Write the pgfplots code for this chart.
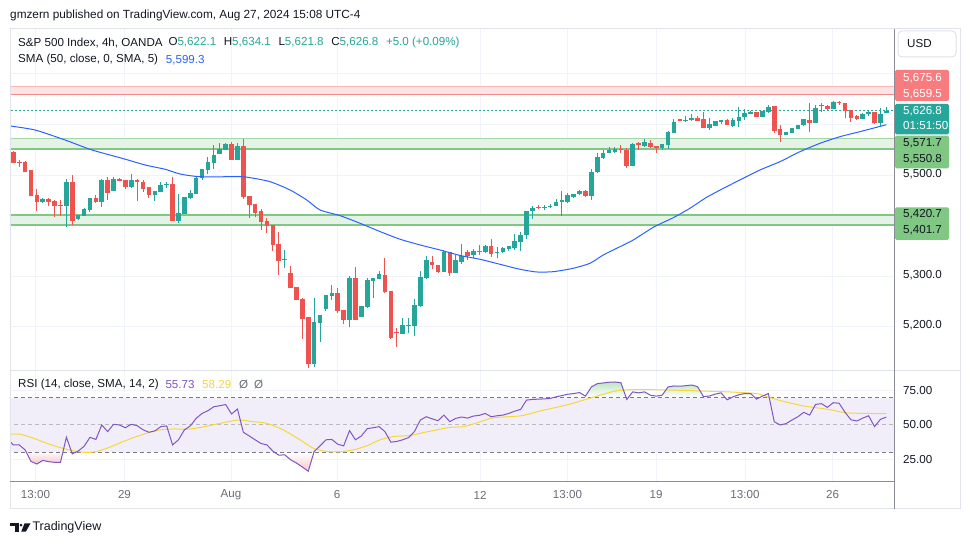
\documentclass[border=0pt]{standalone}
\usepackage{pgfplots}
\pgfplotsset{compat=1.18}
\usepackage{pgfplotstable}
\usepackage{fontspec}
\setmainfont{Liberation Sans}

\definecolor{tvup}{HTML}{26A69A}
\definecolor{tvdn}{HTML}{EF5350}
\definecolor{smablue}{HTML}{2962FF}
\definecolor{gridc}{HTML}{F0F3FA}
\definecolor{zoneg}{HTML}{E4F3E5}
\definecolor{zonegl}{HTML}{A5D6A7}
\definecolor{zonegd}{HTML}{81C784}
\definecolor{zoner}{HTML}{FDE4E4}
\definecolor{zonerl}{HTML}{F7B7B7}
\definecolor{zonerd}{HTML}{F28B8B}
\definecolor{rsip}{HTML}{7E57C2}
\definecolor{rsiy}{HTML}{F5D73A}
\definecolor{band}{HTML}{F2EEF9}
\definecolor{dashc}{HTML}{787B86}
\definecolor{dashl}{HTML}{B8BAC2}
\definecolor{txt}{HTML}{131722}
\definecolor{txtg}{HTML}{6A6D78}
\definecolor{framec}{HTML}{E0E3EB}
\definecolor{scalec}{HTML}{8A8D96}
\definecolor{lblred}{HTML}{F77C80}
\definecolor{lblgreen}{HTML}{81C784}
\definecolor{obg}{HTML}{BFE5C1}
\definecolor{osr}{HTML}{F7C6CA}

\pgfplotstableread{
i o h l c
0 5546.2 5546.5 5522.7 5524.4
1 5525.7 5529.6 5516.5 5524.7
2 5526.4 5528.4 5505.0 5506.7
3 5510.0 5510.0 5457.5 5458.5
4 5460.5 5472.3 5429.6 5447.3
5 5446.6 5454.5 5445.6 5452.6
6 5452.6 5454.5 5438.7 5447.3
7 5449.3 5450.6 5417.7 5439.4
8 5439.7 5450.6 5419.0 5439.5
9 5439.4 5491.1 5397.9 5486.2
10 5486.2 5500.0 5401.2 5409.8
11 5413.1 5421.0 5411.1 5421.0
12 5419.0 5434.8 5418.0 5432.8
13 5430.8 5454.6 5427.6 5453.9
14 5453.6 5460.5 5445.6 5446.6
15 5447.3 5492.1 5437.4 5490.1
16 5490.1 5495.1 5450.6 5465.1
17 5469.1 5496.8 5468.4 5491.4
18 5492.1 5494.8 5488.1 5488.1
19 5490.1 5490.1 5472.3 5477.0
20 5477.0 5502.0 5475.0 5490.1
21 5490.1 5492.1 5448.6 5485.5
22 5486.9 5490.1 5467.1 5472.3
23 5476.3 5477.0 5455.2 5461.2
24 5461.2 5468.4 5449.3 5468.4
25 5467.1 5486.2 5467.1 5480.3
26 5480.3 5486.9 5475.0 5481.3
27 5482.3 5495.4 5409.1 5409.8
28 5409.8 5462.5 5405.9 5425.0
29 5423.0 5456.6 5423.0 5456.6
30 5453.9 5470.4 5451.9 5464.4
31 5463.1 5498.1 5462.4 5493.4
32 5493.4 5511.9 5490.1 5511.9
33 5509.9 5535.0 5501.3 5525.7
34 5524.4 5559.3 5511.2 5540.2
35 5542.2 5564.0 5542.2 5551.4
36 5550.1 5563.3 5549.4 5561.3
37 5561.3 5564.6 5529.6 5529.6
38 5529.6 5563.3 5529.6 5556.6
39 5556.6 5571.2 5451.9 5457.2
40 5457.8 5457.8 5415.0 5441.4
41 5442.0 5442.0 5417.7 5425.6
42 5428.9 5432.2 5391.3 5407.8
43 5409.1 5415.7 5384.7 5400.0
44 5400.5 5400.5 5350.5 5361.7
45 5363.6 5386.7 5302.4 5330.0
46 5332.0 5351.8 5316.9 5334.0
47 5306.3 5320.2 5277.2 5277.2
48 5278.5 5278.5 5253.0 5253.0
49 5254.9 5256.2 5175.9 5215.4
50 5219.4 5219.4 5117.9 5125.8
51 5126.5 5256.2 5121.3 5209.5
52 5208.2 5223.3 5170.8 5223.3
53 5235.1 5262.8 5231.2 5262.8
54 5260.8 5282.6 5253.0 5266.8
55 5266.8 5276.7 5226.6 5232.0
56 5233.3 5233.3 5205.5 5213.4
57 5213.4 5299.7 5200.3 5296.4
58 5296.4 5318.2 5213.4 5213.4
59 5219.4 5241.1 5218.7 5241.1
60 5239.1 5296.4 5236.4 5292.4
61 5291.1 5296.4 5257.6 5296.4
62 5294.4 5310.3 5294.4 5304.3
63 5302.4 5336.0 5267.5 5269.5
64 5271.4 5271.4 5175.2 5177.9
65 5189.7 5198.3 5160.8 5187.7
66 5186.4 5218.2 5186.4 5202.9
67 5201.6 5216.8 5187.0 5203.6
68 5201.6 5255.6 5181.8 5242.4
69 5241.1 5311.0 5239.8 5298.4
70 5297.1 5339.2 5293.8 5331.3
71 5328.1 5339.2 5314.8 5321.4
72 5321.4 5321.4 5307.0 5308.3
73 5308.3 5351.8 5308.3 5347.8
74 5347.1 5347.1 5300.4 5307.0
75 5307.0 5342.6 5307.0 5331.3
76 5329.0 5363.6 5324.1 5339.9
77 5347.8 5351.8 5332.0 5339.9
78 5341.2 5353.8 5336.6 5349.8
79 5348.8 5361.0 5341.9 5347.8
80 5347.8 5361.0 5346.5 5359.7
81 5359.7 5373.5 5338.6 5344.6
82 5344.9 5358.4 5336.6 5346.8
83 5347.8 5358.4 5346.5 5355.7
84 5353.8 5359.7 5350.5 5359.7
85 5356.4 5383.4 5351.8 5369.6
86 5368.3 5388.1 5350.5 5381.5
87 5381.5 5429.0 5373.5 5429.0
88 5428.3 5439.6 5413.0 5435.0
89 5437.0 5440.2 5433.0 5435.7
90 5435.0 5441.0 5431.0 5437.0
91 5437.0 5443.0 5434.3 5439.0
92 5437.7 5452.6 5437.7 5447.5
93 5446.1 5467.8 5419.7 5450.1
94 5447.5 5463.9 5444.1 5460.6
95 5456.7 5462.6 5455.4 5462.6
96 5461.9 5470.5 5460.0 5468.5
97 5468.5 5470.5 5457.4 5459.4
98 5459.4 5511.2 5450.8 5505.9
99 5505.9 5543.5 5503.3 5535.0
100 5533.6 5549.4 5531.6 5543.5
101 5543.5 5556.0 5542.8 5549.4
102 5545.5 5554.7 5544.2 5550.7
103 5551.4 5559.3 5542.8 5549.4
104 5549.4 5553.4 5513.8 5517.8
105 5517.8 5562.6 5517.8 5561.3
106 5562.6 5566.0 5549.4 5558.6
107 5558.0 5570.5 5556.0 5565.2
108 5562.6 5569.2 5554.1 5555.4
109 5557.3 5557.3 5544.2 5554.1
110 5554.1 5560.6 5549.4 5560.6
111 5559.3 5586.3 5552.1 5585.0
112 5583.7 5610.0 5583.7 5604.8
113 5610.0 5610.0 5606.7 5606.7
114 5607.7 5615.9 5604.8 5608.7
115 5608.7 5620.6 5606.7 5612.0
116 5612.7 5616.6 5607.4 5607.4
117 5610.0 5623.8 5593.6 5593.6
118 5592.9 5612.7 5588.9 5600.8
119 5596.8 5606.7 5596.8 5606.7
120 5604.8 5608.7 5600.8 5608.7
121 5608.7 5611.4 5598.8 5598.8
122 5596.8 5612.7 5594.1 5608.7
123 5606.7 5634.4 5594.1 5614.6
124 5614.6 5629.8 5608.7 5623.2
125 5620.6 5627.2 5620.6 5624.5
126 5624.5 5624.5 5615.3 5615.3
127 5615.3 5626.5 5615.3 5626.5
128 5624.5 5637.7 5623.2 5633.7
129 5636.4 5636.4 5583.7 5587.0
130 5590.2 5598.8 5565.9 5579.7
131 5579.7 5585.7 5578.3 5585.7
132 5583.7 5593.6 5582.3 5593.6
133 5591.6 5599.5 5591.6 5599.5
134 5598.1 5610.0 5596.8 5610.0
135 5608.7 5642.3 5585.7 5603.5
136 5603.5 5638.4 5603.5 5633.1
137 5635.7 5641.6 5625.2 5637.1
138 5637.1 5639.1 5627.2 5629.8
139 5629.8 5646.3 5629.8 5644.3
140 5644.3 5646.3 5638.4 5641.6
141 5641.6 5641.6 5612.0 5627.2
142 5628.5 5628.5 5605.4 5612.0
143 5615.9 5618.6 5608.7 5611.4
144 5611.4 5621.9 5611.4 5619.9
145 5620.6 5628.5 5616.6 5624.5
146 5624.5 5624.5 5600.8 5602.1
147 5603.5 5632.4 5596.8 5620.6
148 5622.1 5634.1 5621.8 5626.8
}\ohlc

\pgfplotstableread{
i p
-0.56 5596.8
3.68 5588.9
8.76 5569.2
13.34 5549.4
18.43 5533.0
22.33 5519.8
25.72 5511.3
28.26 5502.0
31.65 5496.6
38.43 5496.6
40.13 5494.7
43.52 5486.8
46.91 5470.4
49.74 5450.6
52.01 5430.8
55.40 5419.6
58.79 5404.5
62.18 5388.1
65.57 5373.0
68.96 5361.7
72.33 5351.8
75.72 5341.0
79.11 5333.4
82.50 5323.5
85.90 5313.6
88.73 5308.3
91.54 5308.9
94.93 5315.6
97.76 5325.5
100.02 5341.9
102.29 5355.1
105.10 5371.5
108.49 5396.6
111.88 5415.6
114.71 5434.2
117.54 5455.9
120.93 5476.9
123.75 5493.5
126.58 5509.9
129.97 5526.3
133.36 5546.0
136.75 5562.6
140.14 5575.7
143.53 5585.6
148 5599.3
}\sma

\pgfplotstableread{
i r
-0.56 38.0
0 35.5
1 35.5
2 31.9
3 23.5
4 21.6
5 24.2
6 23.3
7 22.8
8 22.8
9 41.1
10 29.0
11 31.0
12 34.5
13 41.0
14 39.5
15 50.0
16 45.2
17 50.5
18 50.0
19 48.0
20 50.5
21 49.5
22 46.5
23 44.7
24 45.7
25 48.8
26 49.3
27 35.5
28 39.2
29 46.4
30 49.3
31 54.8
32 58.4
33 60.4
34 63.3
35 64.0
36 64.9
37 58.0
38 61.6
39 44.7
40 42.0
41 39.2
42 36.5
43 35.5
44 31.0
45 28.0
46 28.3
47 24.7
48 22.3
49 19.4
50 16.3
51 30.7
52 34.8
53 39.2
54 39.5
55 36.0
56 34.8
57 45.9
58 39.2
59 42.0
60 47.3
61 48.0
62 48.8
63 45.2
64 37.5
65 38.0
66 39.2
67 40.8
68 45.2
69 53.6
70 56.0
71 54.5
72 53.1
73 57.2
74 52.4
75 54.8
76 55.8
77 55.0
78 56.5
79 57.0
80 58.4
81 56.0
82 56.7
83 57.2
84 58.4
85 60.1
86 61.3
87 68.1
88 68.6
89 68.8
90 69.0
91 69.3
92 70.5
93 71.4
94 72.4
95 72.9
96 73.6
97 71.0
98 77.7
99 80.1
100 80.6
101 81.1
102 81.3
103 80.8
104 68.6
105 74.1
106 73.4
107 74.1
108 71.7
109 71.0
110 71.7
111 77.7
112 78.4
113 78.2
114 78.6
115 79.1
116 77.9
117 70.6
118 71.1
119 72.5
120 73.4
121 68.3
122 70.5
123 72.0
124 72.9
125 72.9
126 68.8
127 71.0
128 72.9
129 52.4
130 50.0
131 51.0
132 53.6
133 56.0
134 59.2
135 57.2
136 65.0
137 65.5
138 62.8
139 66.2
140 65.8
141 59.2
142 53.8
143 52.9
144 55.0
145 56.7
146 48.8
147 54.1
148 55.73
}\rsi

\pgfplotstableread{
i m
-0.56 43.3
1.14 43.3
3.40 40.4
5.66 36.7
7.92 33.6
10.17 31.2
12.44 30.0
14.14 30.7
16.39 33.9
18.65 38.0
20.92 41.6
22.61 44.0
24.87 46.4
27.12 47.1
29.39 46.9
31.65 48.1
34.48 50.7
37.29 53.1
38.43 53.6
40.68 52.4
42.96 51.2
45.77 46.4
48.60 39.2
50.86 33.1
53.13 30.7
55.38 30.5
57.64 31.9
59.91 34.8
62.17 39.2
64.42 41.6
67.25 42.3
69.50 44.5
71.77 46.4
74.03 48.3
76.35 48.8
79.22 52.4
81.50 55.3
86.08 56.7
89.52 60.4
94.12 64.9
98.12 70.0
102.14 74.8
105.58 75.8
112.44 75.3
121.05 74.1
125.92 72.9
128.21 70.0
130.78 66.9
134.22 63.7
138.24 61.3
141.10 58.9
144.55 58.4
148 58.29
}\rsima

\pgfplotsset{
  tvaxis/.style={
    scale only axis, width=884pt,
    xmin=-0.56, xmax=149.3,
    axis line style={draw=none},
    tick style={draw=none},
    xticklabels={}, yticklabels={},
    xtick={3.76,18.85,36.9,54.87,79.11,93.95,108.95,124.04,138.87},
    grid=major,
    major grid style={draw=gridc, line width=0.8pt},
  },
  wick/.style={draw=none, mark=none, forget plot,
    /pgfplots/error bars/y dir=plus, /pgfplots/error bars/y explicit,
    /pgfplots/error bars/error mark=none,
    /pgfplots/error bars/error bar style={line width=1pt, draw=#1}},
  body/.style={draw=none, mark=none, forget plot,
    /pgfplots/error bars/y dir=plus, /pgfplots/error bars/y explicit,
    /pgfplots/error bars/error mark=none,
    /pgfplots/error bars/error bar style={line width=4.6pt, draw=#1}},
}

\newcommand{\lf}{\fontsize{11.6}{13}\selectfont}

\begin{document}
\begin{tikzpicture}
\begin{scope}[x=1pt,y=1pt]
\useasboundingbox (0,0) rectangle (970,545);
\fill[white] (0,0) rectangle (970,545);
\end{scope}

% ---------------- price pane ----------------
\begin{axis}[tvaxis, at={(10pt,175pt)}, anchor=south west, height=341pt,
  ymin=5114.6, ymax=5788.5, ytick={5200,5300,5400,5500,5600,5700}]
  % zones
  \fill[zoner] (axis cs:-1,5659.5) rectangle (axis cs:150,5675.6);
  \draw[zonerl, line width=1pt] (axis cs:-1,5675.6) -- (axis cs:150,5675.6);
  \draw[zonerd, line width=1.4pt] (axis cs:-1,5659.5) -- (axis cs:150,5659.5);
  \fill[zoneg] (axis cs:-1,5550.8) rectangle (axis cs:150,5571.7);
  \draw[zonegl, line width=1.2pt] (axis cs:-1,5571.7) -- (axis cs:150,5571.7);
  \draw[zonegd, line width=2pt] (axis cs:-1,5550.8) -- (axis cs:150,5550.8);
  \fill[zoneg] (axis cs:-1,5401.7) rectangle (axis cs:150,5420.7);
  \draw[zonegd, line width=1.8pt] (axis cs:-1,5420.7) -- (axis cs:150,5420.7);
  \draw[zonegd, line width=1.8pt] (axis cs:-1,5401.7) -- (axis cs:150,5401.7);
  % current price line
  \draw[tvup, line width=1pt, dash pattern=on 1.5pt off 2.5pt] (axis cs:-1,5626.8) -- (axis cs:150,5626.8);
  % candles: wicks
  \addplot[wick=tvup, restrict expr to domain={\thisrow{c}-\thisrow{o}}{0:100000}]
    table[x=i, y=l, y error expr=\thisrow{h}-\thisrow{l}] {\ohlc};
  \addplot[wick=tvdn, restrict expr to domain={\thisrow{o}-\thisrow{c}}{0.0001:100000}]
    table[x=i, y=l, y error expr=\thisrow{h}-\thisrow{l}] {\ohlc};
  % candles: bodies
  \addplot[body=tvup, restrict expr to domain={\thisrow{c}-\thisrow{o}}{0:100000}]
    table[x=i, y=o, y error expr={max(\thisrow{c}-\thisrow{o},1.6)}] {\ohlc};
  \addplot[body=tvdn, restrict expr to domain={\thisrow{o}-\thisrow{c}}{0.0001:100000}]
    table[x=i, y=c, y error expr={max(\thisrow{o}-\thisrow{c},1.6)}] {\ohlc};
  % SMA 50
  \addplot[smablue, line width=1pt, smooth, tension=0.4, mark=none] table[x=i, y=p] {\sma};
\end{axis}

% ---------------- RSI pane ----------------
\begin{axis}[tvaxis, at={(10pt,63pt)}, anchor=south west, height=111pt,
  ymin=8.5, ymax=89.3, ytick={25,75}]
  \fill[band] (axis cs:-1,30) rectangle (axis cs:150,70);
  \begin{scope}
    \clip (axis cs:-1,70) rectangle (axis cs:150,89.3);
    \addplot[draw=none, forget plot, top color=obg, bottom color=white, middle color=white,
      restrict x to domain=91:128] table[x=i, y=r] {\rsi}
      -- (axis cs:128,58.7) -- (axis cs:91,58.7) -- cycle;
  \end{scope}
  \begin{scope}
    \clip (axis cs:-1,8.5) rectangle (axis cs:150,30);
    \addplot[draw=none, forget plot, top color=white, bottom color=osr, middle color=white,
      restrict x to domain=2:9] table[x=i, y=r] {\rsi}
      -- (axis cs:9,30) -- (axis cs:2,30) -- cycle;
    \addplot[draw=none, forget plot, top color=white, bottom color=osr, middle color=white,
      restrict x to domain=44:51] table[x=i, y=r] {\rsi}
      -- (axis cs:51,43.7) -- (axis cs:44,43.7) -- cycle;
  \end{scope}
  \draw[dashc, line width=1pt, dash pattern=on 4pt off 3pt] (axis cs:-1,70) -- (axis cs:150,70);
  \draw[dashc, line width=1pt, dash pattern=on 4pt off 3pt] (axis cs:-1,30) -- (axis cs:150,30);
  \draw[dashl, line width=1pt, dash pattern=on 4pt off 3pt] (axis cs:-1,50) -- (axis cs:150,50);
  \addplot[rsiy, line width=1pt, smooth, tension=0.4, mark=none] table[x=i, y=m] {\rsima};
  \addplot[rsip, line width=1pt, mark=none] table[x=i, y=r] {\rsi};
\end{axis}

\begin{scope}[x=1pt,y=1pt]
% ---------------- frames ----------------
\draw[framec, line width=1pt] (10,36) rectangle (960,516);
\draw[framec, line width=1pt] (10,174.5) -- (960,174.5);
\draw[scalec, line width=1pt] (10,63) -- (894.5,63);
\draw[scalec, line width=1pt] (894.5,36) -- (894.5,516);

% USD box
\draw[framec, line width=1pt, rounded corners=4pt, fill=white] (898,488) rectangle (956,514);
\node[anchor=west, inner sep=0, font=\lf, text=txt] at (907,501) {USD};

% price scale labels
\fill[lblred, rounded corners=1.5pt] (895,444) rectangle (949,475);
\node[anchor=west, inner sep=0, font=\lf, text=white] at (903,466.7) {5,675.6};
\node[anchor=west, inner sep=0, font=\lf, text=white] at (903,451) {5,659.5};
\fill[tvup, rounded corners=1.5pt] (895,410.7) rectangle (949,441);
\node[anchor=west, inner sep=0, font=\lf, text=white] at (903,433.3) {5,626.8};
\node[anchor=west, inner sep=0, font=\lf, text=white] at (903,419) {01:51:50};
\fill[lblgreen, rounded corners=1.5pt] (895,376.7) rectangle (949,409.3);
\node[anchor=west, inner sep=0, font=\lf, text=txt] at (903,401.7) {5,571.7};
\node[anchor=west, inner sep=0, font=\lf, text=txt] at (903,386) {5,550.8};
\node[anchor=west, inner sep=0, font=\lf, text=txt] at (903,371) {5,500.0};
\fill[lblgreen, rounded corners=1.5pt] (895,305) rectangle (949,337.7);
\node[anchor=west, inner sep=0, font=\lf, text=txt] at (903,330.7) {5,420.7};
\node[anchor=west, inner sep=0, font=\lf, text=txt] at (903,314.3) {5,401.7};
\node[anchor=west, inner sep=0, font=\lf, text=txt] at (903,269.5) {5,300.0};
\node[anchor=west, inner sep=0, font=\lf, text=txt] at (903,220) {5,200.0};
% RSI scale labels
\node[anchor=west, inner sep=0, font=\lf, text=txt] at (903,154.3) {75.00};
\node[anchor=west, inner sep=0, font=\lf, text=txt] at (903,120) {50.00};
\node[anchor=west, inner sep=0, font=\lf, text=txt] at (903,85.7) {25.00};

% time labels
\foreach \xx/\tt in {35.5/13:00, 124.5/29, 231/Aug, 337/6, 480/12, 567.5/13:00, 656/19, 745/13:00, 832.5/26}
  \node[inner sep=0, font=\lf, text=txtg] at (\xx,50) {\tt};

% header and legends
\node[anchor=west, inner sep=0, font=\fontsize{11.8}{13}\selectfont, text=txt] at (10,530) {gmzern published on TradingView.com, Aug 27, 2024 15:08 UTC-4};
\node[anchor=west, inner sep=0, font=\lf, text=txt] at (18,502.3) {S\&P 500 Index, 4h, OANDA};
\node[anchor=west, inner sep=0, font=\lf, text=txt] at (168.3,502.3) {O\textcolor{tvup}{5,622.1}};
\node[anchor=west, inner sep=0, font=\lf, text=txt] at (223.6,502.3) {H\textcolor{tvup}{5,634.1}};
\node[anchor=west, inner sep=0, font=\lf, text=txt] at (278.3,502.3) {L\textcolor{tvup}{5,621.8}};
\node[anchor=west, inner sep=0, font=\lf, text=txt] at (331.1,502.3) {C\textcolor{tvup}{5,626.8}};
\node[anchor=west, inner sep=0, font=\lf, text=tvup] at (385.8,502.3) {+5.0 (+0.09\%)};
\node[anchor=west, inner sep=0, font=\lf, text=txt] at (18,485) {SMA (50, close, 0, SMA, 5)};
\node[anchor=west, inner sep=0, font=\lf, text=smablue] at (165.7,485) {5,599.3};
\node[anchor=west, inner sep=0, font=\lf, text=txt] at (18,160) {RSI (14, close, SMA, 14, 2)};
\node[anchor=west, inner sep=0, font=\lf, text=rsip] at (165.3,160) {55.73};
\node[anchor=west, inner sep=0, font=\lf, text=rsiy] at (202,160) {58.29};
\node[anchor=west, inner sep=0, font=\lf, text=txtg] at (238.8,160) {Ø};
\node[anchor=west, inner sep=0, font=\lf, text=txtg] at (254,160) {Ø};

% footer logo
\fill[txt] (10,21.5) rectangle (18.5,18.5);
\fill[txt] (15,18.5) rectangle (18.5,13.3);
\fill[txt] (21,19.8) circle (1.5);
\fill[txt] (24.5,21.5) -- (30.5,21.5) -- (25.8,13.3) -- (21.2,13.3) -- cycle;
\node[anchor=west, inner sep=0, font=\fontsize{12.5}{14}\selectfont, text=txt] at (32.3,17.3) {TradingView};
\end{scope}
\end{tikzpicture}
\end{document}
